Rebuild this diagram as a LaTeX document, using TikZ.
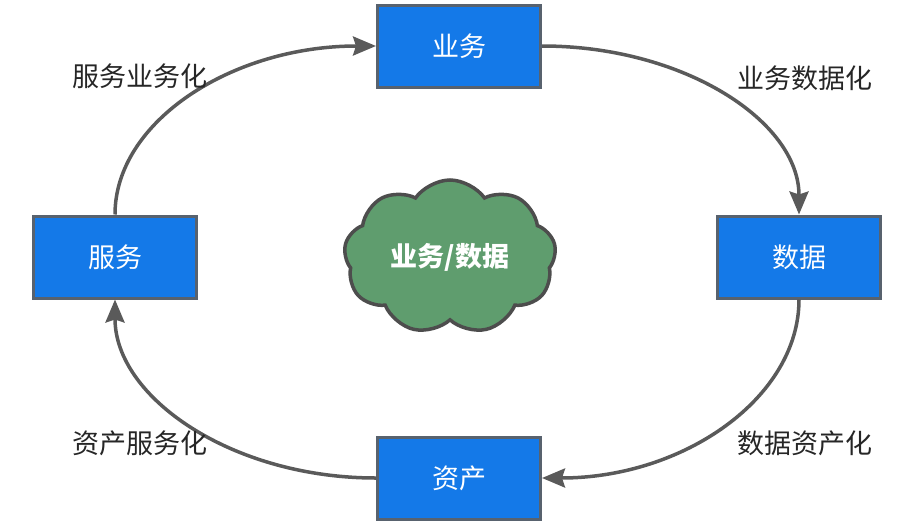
\documentclass[tikz,border=0pt]{standalone}
\usepackage{fontspec}
\newfontfamily\cjk{Noto Sans CJK SC}
\usetikzlibrary{shapes.symbols, arrows.meta, positioning}

\definecolor{boxblue}{RGB}{20,121,232}
\definecolor{boxedge}{RGB}{88,98,110}
\definecolor{arrgray}{RGB}{90,90,90}
\definecolor{cloudgreen}{RGB}{95,157,110}
\definecolor{cloudedge}{RGB}{77,77,77}
\definecolor{lbltext}{RGB}{38,38,38}

\begin{document}
\begin{tikzpicture}[
    x=1pt, y=-1pt,
    font=\cjk\fontsize{27}{31}\selectfont,
    >={Stealth[length=23pt, width=19pt, inset=3pt]},
    % --- estilos ---
    box/.style      = {rectangle, minimum width=163pt, minimum height=82pt,
                       draw=boxedge, fill=boxblue, line width=3pt,
                       text=white, align=center},
    cloudbox/.style = {cloud, cloud puffs=9, cloud puff arc=110, aspect=1.4,
                       minimum width=212pt, minimum height=154pt,
                       draw=cloudedge, fill=cloudgreen, line width=3.5pt,
                       text=white, font=\cjk\bfseries\fontsize{27}{30}\selectfont},
    arr/.style      = {->, line width=3.5pt, draw=arrgray},
    lbl/.style      = {text=lbltext, inner sep=0pt}
]
\useasboundingbox (0,0) rectangle (921,525);

% ===================== NODOS =====================
\node[box] (yewu)   at (459,46)  {业务};
\node[box] (shuju)  at (799,257) {数据};
\node[box] (zichan) at (459,478) {资产};
\node[box] (fuwu)   at (115,257) {服务};
\node[cloudbox] (center) at (450,257) {业务/数据};

% ===================== FLECHAS =====================
\draw[arr] (fuwu.north)  .. controls +(0,-93)  and +(-144,0) .. (yewu.west);
\draw[arr] (yewu.east)   .. controls +(142,0)  and +(0,-93)  .. (shuju.north);
\draw[arr] (shuju.south) .. controls +(0,98)   and +(142,0)  .. (zichan.east);
\draw[arr] (zichan.west) .. controls +(-144,0) and +(0,98)   .. (fuwu.south);

% ===================== ETIQUETAS =====================
\node[lbl] (l1) at (140,76)  {服务业务化};
\node[lbl] (l2) at (805,78)  {业务数据化};
\node[lbl] (l3) at (805,443) {数据资产化};
\node[lbl] (l4) at (140,443) {资产服务化};

\end{tikzpicture}
\end{document}
